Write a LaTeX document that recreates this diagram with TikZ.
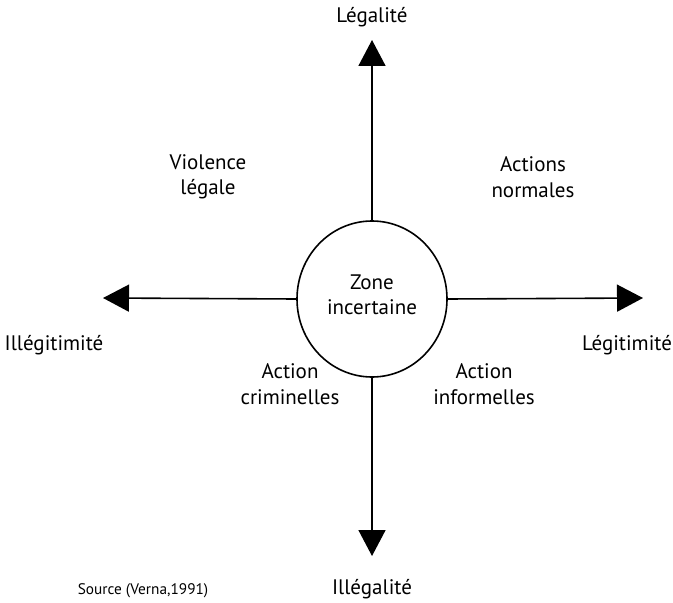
\documentclass[tikz,border=0pt]{standalone}
\usepackage{fontspec}
\setmainfont{PT Sans}
\usetikzlibrary{arrows.meta,shapes.geometric}
\begin{document}
\begin{tikzpicture}[x=1bp,y=-1bp,
  axis/.style={line width=1.6bp,-{Triangle[length=26bp,width=27bp]}},
  lbl/.style={font=\fontsize{21bp}{25.5bp}\selectfont,align=center,inner sep=0pt},
  src/.style={font=\fontsize{15.3bp}{18bp}\selectfont,inner sep=0pt}]
\useasboundingbox (0,0) rectangle (673,603);
\node[draw,line width=1.6bp,ellipse,minimum width=150bp,minimum height=156bp,inner sep=0pt] (z) at (372,299) {};
\node[lbl] (zt) at (372,295) {Zone\\incertaine};
\coordinate (top) at (372,40);
\coordinate (bot) at (372,556);
\coordinate (lft) at (103,298);
\coordinate (rgt) at (643,298);
\draw[axis] (z.north) -- (top);
\draw[axis] (z.south) -- (bot);
\draw[axis] (z.west) -- (lft);
\draw[axis] (z.east) -- (rgt);
\node[lbl] (legal) at (372,17) {Légalité};
\node[lbl] (illegal) at (372,589) {Illégalité};
\node[lbl] (illegit) at (54,345) {Illégitimité};
\node[lbl] (legit) at (627,345) {Légitimité};
\node[lbl] (vl) at (208,177) {Violence\\légale};
\node[lbl] (an) at (533,177) {Actions\\normales};
\node[lbl] (ac) at (290,384) {Action\\criminelles};
\node[lbl] (ai) at (484,384) {Action\\informelles};
\node[src] (s) at (143,591) {Source (Verna,1991)};
\end{tikzpicture}
\end{document}
